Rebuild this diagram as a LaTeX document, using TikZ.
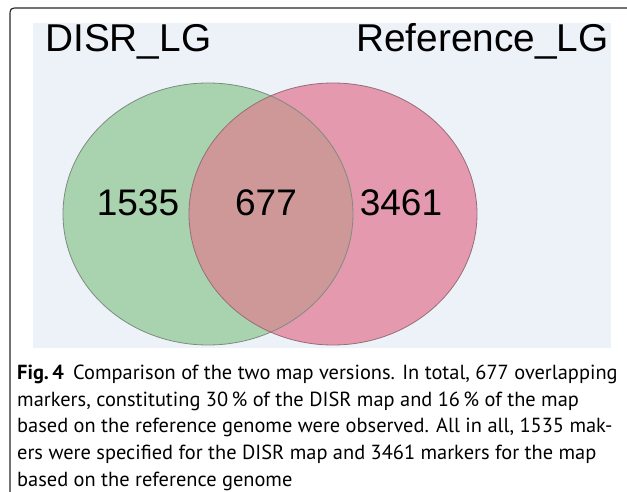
\documentclass[tikz,border=0pt]{standalone}
\usepackage{fontspec}
\newfontfamily\labfont{Liberation Sans}
\newfontfamily\capfont{PT Sans}
\definecolor{bgblue}{RGB}{237,241,248}
\definecolor{greenfill}{RGB}{168,211,174}
\definecolor{pinkfill}{RGB}{228,153,174}
\definecolor{overlapfill}{RGB}{206,152,153}
\definecolor{greenline}{RGB}{125,140,128}
\definecolor{pinkline}{RGB}{150,110,120}
\definecolor{framec}{RGB}{40,40,40}
\tikzset{
  setlabel/.style={font=\labfont\fontsize{38.8}{46}\selectfont, inner sep=0pt, anchor=base west},
  countlabel/.style={font=\labfont\fontsize{37}{44}\selectfont, inner sep=0pt, anchor=base},
  captext/.style={font=\capfont\fontsize{20.4}{26.6}\selectfont, inner sep=0pt, anchor=base west, align=left}
}
\begin{document}
\begin{tikzpicture}[x=1pt,y=-1pt]
\useasboundingbox (0,0) rectangle (627,492);
% background
\fill[bgblue] (33,23) rectangle (611,348);
% circles
\fill[greenfill] (208,214) ellipse [x radius=145pt, y radius=131pt];
\fill[pinkfill] (333,214) ellipse [x radius=144pt, y radius=131pt];
\begin{scope}
  \clip (208,214) ellipse [x radius=145pt, y radius=131pt];
  \fill[overlapfill] (333,214) ellipse [x radius=144pt, y radius=131pt];
\end{scope}
\draw[greenline, line width=0.8pt] (208,214) ellipse [x radius=145pt, y radius=131pt];
\draw[pinkline, line width=0.8pt] (333,214) ellipse [x radius=144pt, y radius=131pt];
% outer frame
\draw[framec, line width=1.2pt] (10,492) -- (10,17) .. controls (10,8) .. (19,8) -- (627,8);
% labels
\node[setlabel] (disr) at (45,52) {DISR\_LG};
\node[setlabel] (ref) at (356,52) {Reference\_LG};
\node[countlabel] (left) at (138,215) {1535};
\node[countlabel] (mid) at (266,215) {677};
\node[countlabel] (right) at (401,215) {3461};
% caption (anchored at the baseline of its last line)
\node[captext] (cap) at (17,486) {\textbf{Fig.\,4}\hspace{0.45em}Comparison of the two map versions. In total, 677 overlapping\\
markers, constituting 30\,\% of the DISR map and 16\,\% of the map\\
based on the reference genome were observed. All in all, 1535 mak-\\
ers were specified for the DISR map and 3461 markers for the map\\
based on the reference genome};
\end{tikzpicture}
\end{document}
